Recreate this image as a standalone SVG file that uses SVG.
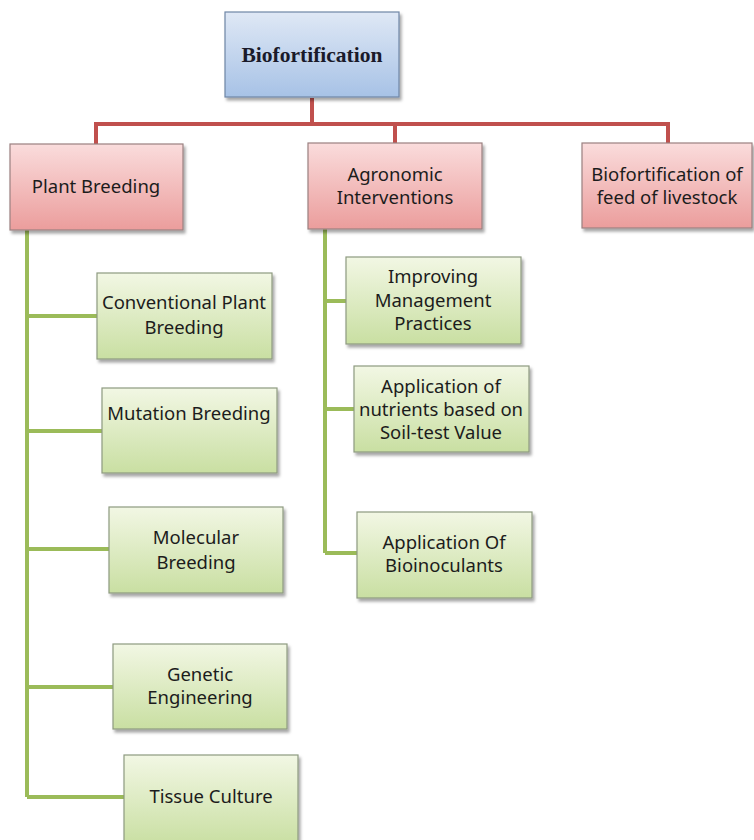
<svg xmlns="http://www.w3.org/2000/svg" width="754" height="840" viewBox="0 0 754 840">
<defs>
<linearGradient id="gBlue" x1="0" y1="0" x2="0" y2="1"><stop offset="0" stop-color="#dfe8f5"/><stop offset="1" stop-color="#a7c2e6"/></linearGradient>
<linearGradient id="gPink" x1="0" y1="0" x2="0" y2="1"><stop offset="0" stop-color="#fadcdc"/><stop offset="1" stop-color="#eb9d9c"/></linearGradient>
<linearGradient id="gGreen" x1="0" y1="0" x2="0" y2="1"><stop offset="0" stop-color="#f2f7e4"/><stop offset="1" stop-color="#c9dfa2"/></linearGradient>
<filter id="sh" x="-10%" y="-10%" width="125%" height="130%"><feDropShadow dx="2" dy="3" stdDeviation="1.5" flood-color="#000" flood-opacity="0.35"/></filter>
</defs>
<style>
.box{stroke:#8c8c8c;stroke-width:1.2;filter:url(#sh)}
.blue{fill:url(#gBlue);stroke:#6f86a6}
.pink{fill:url(#gPink);stroke:#9a8080}
.green{fill:url(#gGreen);stroke:#8e9a80}
.t{font-family:"Noto Sans","Open Sans","Liberation Sans",sans-serif;font-size:18.5px;fill:#1c1c1c;text-anchor:middle}
.tb{font-family:"Liberation Serif","Times New Roman",serif;font-size:21.5px;font-weight:bold;fill:#1a1a2a;text-anchor:middle}
.red{stroke:#c0504d;stroke-width:4;fill:none}
.grn{stroke:#9bbb59;stroke-width:4;fill:none}
</style>
<rect width="754" height="840" fill="#ffffff"/>
<g id="connectors">
<path class="red" d="M312 98 V124 M96 144 V124 H668 V143 M395 124 V143"/>
<path class="grn" d="M27 230 V797 M27 316 H97 M27 431 H102 M27 549 H109 M27 687 H113 M27 797 H124"/>
<path class="grn" d="M325 229 V553 M325 301 H346 M325 409 H354 M325 553 H357"/>
</g>
<g id="n-biofortification"><rect class="box blue" x="225" y="12" width="174" height="85"/><text class="tb" x="312" y="62">Biofortification</text></g>
<g id="n-plant-breeding"><rect class="box pink" x="10" y="144" width="173" height="86"/><text class="t" x="96" y="193">Plant Breeding</text></g>
<g id="n-agronomic"><rect class="box pink" x="308" y="143" width="174" height="86"/><text class="t" x="395" y="181">Agronomic</text><text class="t" x="395" y="204">Interventions</text></g>
<g id="n-feed"><rect class="box pink" x="582" y="143" width="170" height="85"/><text class="t" x="667" y="181">Biofortification of</text><text class="t" x="667" y="204">feed of livestock</text></g>
<g id="n-conventional"><rect class="box green" x="97" y="273" width="175" height="86"/><text class="t" x="184" y="309">Conventional Plant</text><text class="t" x="184" y="334">Breeding</text></g>
<g id="n-mutation"><rect class="box green" x="102" y="388" width="175" height="85"/><text class="t" x="189" y="420">Mutation Breeding</text></g>
<g id="n-molecular"><rect class="box green" x="109" y="507" width="174" height="86"/><text class="t" x="196" y="544">Molecular</text><text class="t" x="196" y="569">Breeding</text></g>
<g id="n-genetic"><rect class="box green" x="113" y="644" width="174" height="85"/><text class="t" x="200" y="681">Genetic</text><text class="t" x="200" y="704">Engineering</text></g>
<g id="n-tissue"><rect class="box green" x="124" y="755" width="174" height="90"/><text class="t" x="211" y="803">Tissue Culture</text></g>
<g id="n-improving"><rect class="box green" x="346" y="257" width="175" height="87"/><text class="t" x="433" y="283">Improving</text><text class="t" x="433" y="307">Management</text><text class="t" x="433" y="330">Practices</text></g>
<g id="n-nutrients"><rect class="box green" x="354" y="366" width="175" height="86"/><text class="t" x="441" y="393">Application of</text><text class="t" x="441" y="416">nutrients based on</text><text class="t" x="441" y="439">Soil-test Value</text></g>
<g id="n-bioinoculants"><rect class="box green" x="357" y="512" width="175" height="86"/><text class="t" x="444" y="549">Application Of</text><text class="t" x="444" y="572">Bioinoculants</text></g>
</svg>
